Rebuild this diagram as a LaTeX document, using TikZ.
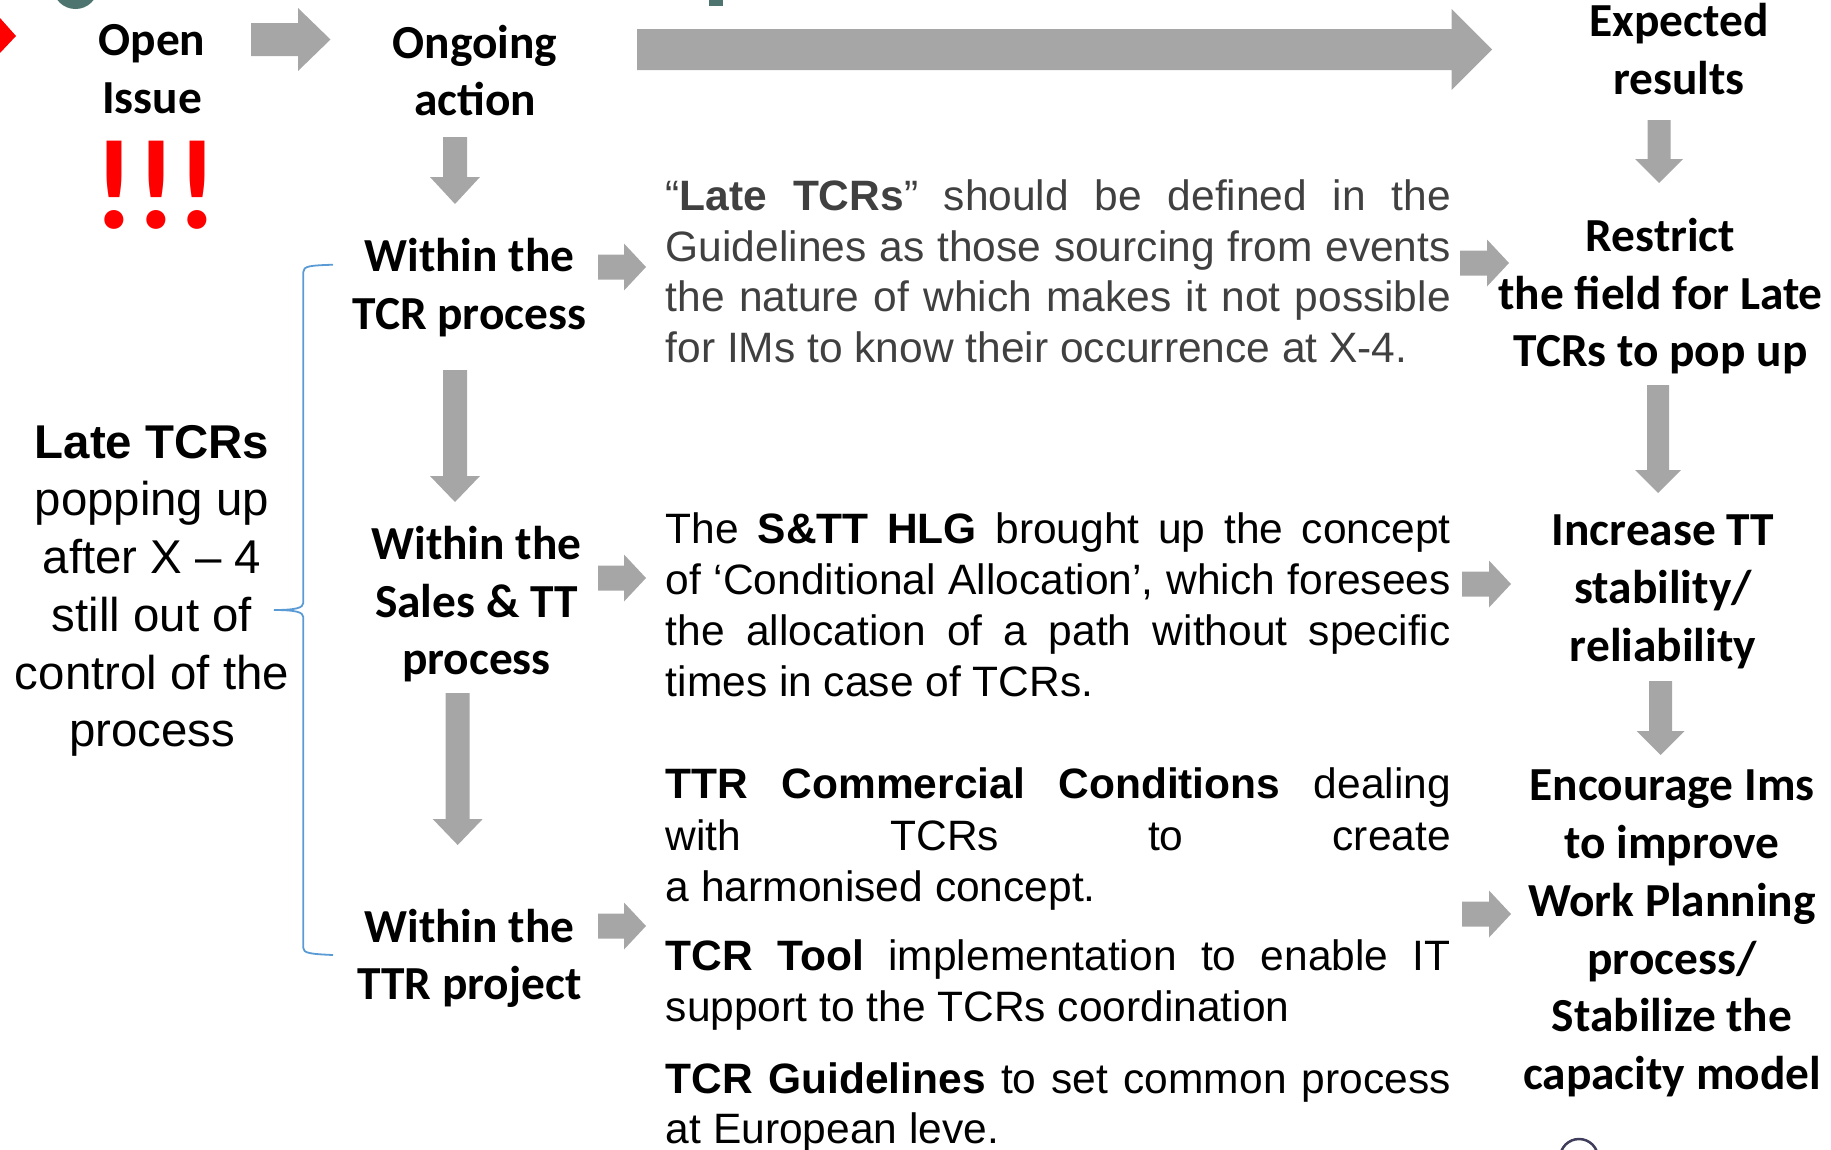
\documentclass[tikz,border=0pt]{standalone}
\usepackage{fontspec}
\setmainfont{Liberation Sans}
\newfontfamily\calib{Carlito}
\usetikzlibrary{calc}
\definecolor{arrowgray}{HTML}{A6A6A6}
\definecolor{pgray}{HTML}{404040}
\definecolor{braceblue}{HTML}{5B9BD5}
\definecolor{tealdark}{HTML}{4E746F}
\definecolor{navygray}{HTML}{3F3D5B}
\newcommand\hs{\rule[-0.26em]{0pt}{1.16em}}
\newcommand\as{\rule[-0.24em]{0pt}{1.14em}}
\newcommand\jl[1]{\makebox[785pt][s]{#1}}
% block arrow to the right: start, end, shaft half, head half, head length
\newcommand\blockR[5]{\fill[arr] let \p1=(#1), \p2=(#2) in
  (\x1,\y1+#3pt) -- (\x2-#5pt,\y1+#3pt) -- (\x2-#5pt,\y1+#4pt) -- (\x2,\y1) --
  (\x2-#5pt,\y1-#4pt) -- (\x2-#5pt,\y1-#3pt) -- (\x1,\y1-#3pt) -- cycle;}
% block arrow downwards
\newcommand\blockD[5]{\fill[arr] let \p1=(#1), \p2=(#2) in
  (\x1-#3pt,\y1) -- (\x1-#3pt,\y2+#5pt) -- (\x1-#4pt,\y2+#5pt) -- (\x1,\y2) --
  (\x1+#4pt,\y2+#5pt) -- (\x1+#3pt,\y2+#5pt) -- (\x1+#3pt,\y1) -- cycle;}
\begin{document}
\begin{tikzpicture}[x=1pt,y=-1pt,
  hdr/.style={font=\calib\bfseries\fontsize{47.4}{57.8}\selectfont, align=center, inner sep=0pt},
  lefttxt/.style={font=\fontsize{47.4}{57.7}\selectfont, align=center, inner sep=0pt},
  para/.style={font=\fontsize{42.5}{51}\selectfont, anchor=base west, inner sep=0pt},
  arr/.style={fill=arrowgray, draw=none}]
\useasboundingbox (0,0) rectangle (1831,1149);

% fragments cut by the frame
\begin{scope}
\clip (0,0) rectangle (1831,1149);
\fill[red] (0,18) -- (16,36) -- (0,53) -- cycle;
\fill[tealdark] (75.5,-12) ellipse [x radius=22, y radius=21];
\fill[tealdark] (709,0) rectangle (723,6);
\draw[navygray, line width=2.5pt] (1579,1158) circle [radius=19];
\end{scope}

% header row
\node[hdr] (open) at (152,69) {\hs Open\\\hs Issue};
\node[font=\calib\bfseries\fontsize{128}{128}\selectfont, text=red, inner sep=0pt,
      text height=88pt, text depth=0pt] (excl) at (156,184) {!!!};
\node[hdr] (ongoing) at (475,71.8) {\hs Ongoing\\\hs action};
\node[hdr] (expected) at (1679,50.2) {\hs Expected\\\hs results};

% second column
\node[hdr] (tcrp) at (469.4,285) {\hs Within the\\\hs TCR process};
\node[hdr] (sales) at (476.4,602) {\hs Within the\\\hs Sales \& TT\\\hs process};
\node[hdr] (ttr) at (469.4,955.8) {\hs Within the\\\hs TTR project};

% right column
\node[hdr] (restrict) at (1660.5,294) {\hs Restrict\\\hs the field for Late\\\hs TCRs to pop up};
\node[hdr] (increase) at (1663,588.5) {\hs Increase TT\\\hs stability/\\\hs reliability};
\node[hdr] (encourage) at (1672,930) {\hs Encourage Ims\\\hs to improve\\\hs Work Planning\\\hs process/\\\hs Stabilize the\\\hs capacity model};

% left text
\node[lefttxt] (late) at (152,586.8) {\as\textbf{Late TCRs}\\\as popping up\\\as after X – 4\\\as still out of\\\as control of the\\\as process};

% brace
\draw[braceblue, line width=1.8pt]
  (333,264.7) .. controls (310,265.5) and (303.3,266) .. (303.3,272)
  -- (303.3,603) .. controls (303.3,608) and (295,610) .. (274,610)
  .. controls (295,610) and (303.3,612) .. (303.3,617)
  -- (303.3,948) .. controls (303.3,953) and (310,954) .. (333,955);

% paragraph 1
\node[para,text=pgray] (p1a) at (665.6,210.2) {\jl{“\textbf{Late TCRs}” should be defined in the}};
\node[para,text=pgray] (p1b) at (665.6,261.6) {\jl{Guidelines as those sourcing from events}};
\node[para,text=pgray] (p1c) at (665.6,311.8) {\jl{the nature of which makes it not possible}};
\node[para,text=pgray] (p1d) at (665.6,362) {for IMs to know their occurrence at X-4.};
% paragraph 2
\node[para] (p2a) at (665.6,543) {\jl{The \textbf{S\&TT HLG} brought up the concept}};
\node[para] (p2b) at (665.6,594.4) {\jl{of ‘Conditional Allocation’, which foresees}};
\node[para] (p2c) at (665.6,645.8) {\jl{the allocation of a path without specific}};
\node[para] (p2d) at (665.6,696) {times in case of TCRs.};
% paragraph 3
\node[para] (p3a) at (665.6,798.7) {\jl{\textbf{TTR Commercial Conditions} dealing}};
\node[para] (p3b) at (665.6,850.2) {\jl{with TCRs to create}};
\node[para] (p3c) at (665.6,901.5) {a harmonised concept.};
% paragraph 4
\node[para] (p4a) at (665.6,970.4) {\jl{\textbf{TCR Tool} implementation to enable IT}};
\node[para] (p4b) at (665.6,1021.8) {support to the TCRs coordination};
% paragraph 5
\node[para] (p5a) at (665.6,1093) {\jl{\textbf{TCR Guidelines} to set common process}};
\node[para] (p5b) at (665.6,1143.2) {at European leve.};

% arrow end points
\coordinate (a1s) at (251,39.5);  \coordinate (a1e) at (330.5,39.5);
\coordinate (bgs) at (637,49.5);  \coordinate (bge) at (1492,49.5);
\coordinate (r1s) at (598,267);   \coordinate (r1e) at (646,267);
\coordinate (r2s) at (598,578);   \coordinate (r2e) at (646,578);
\coordinate (r3s) at (598,926);   \coordinate (r3e) at (646,926);
\coordinate (r4s) at (1460,263);  \coordinate (r4e) at (1509,263);
\coordinate (r5s) at (1462,584);  \coordinate (r5e) at (1511,584);
\coordinate (r6s) at (1462,914);  \coordinate (r6e) at (1511,914);
\coordinate (d1s) at (455,137);   \coordinate (d1e) at (455,204);
\coordinate (d2s) at (1659,120);  \coordinate (d2e) at (1659,183);
\coordinate (d3s) at (455,370);   \coordinate (d3e) at (455,502);
\coordinate (d4s) at (457.7,693); \coordinate (d4e) at (457.7,845);
\coordinate (d5s) at (1658,385);  \coordinate (d5e) at (1658,493);
\coordinate (d6s) at (1660.5,681);\coordinate (d6e) at (1660.5,755);

\blockR{a1s}{a1e}{16.5}{31.5}{32.5}
\blockR{bgs}{bge}{20.5}{40.5}{40.5}
\blockR{r1s}{r1e}{12.5}{23.5}{22}
\blockR{r2s}{r2e}{12.5}{23.5}{22}
\blockR{r3s}{r3e}{12.5}{23.5}{22}
\blockR{r4s}{r4e}{12.5}{23.5}{22}
\blockR{r5s}{r5e}{12.5}{23.5}{22}
\blockR{r6s}{r6e}{12.5}{23.5}{22}
\blockD{d1s}{d1e}{12}{25}{27}
\blockD{d2s}{d2e}{11.5}{24}{24}
\blockD{d3s}{d3e}{12}{25}{26}
\blockD{d4s}{d4e}{12}{25}{26}
\blockD{d5s}{d5e}{11}{23}{23}
\blockD{d6s}{d6e}{11.5}{24}{24}
\end{tikzpicture}
\end{document}
